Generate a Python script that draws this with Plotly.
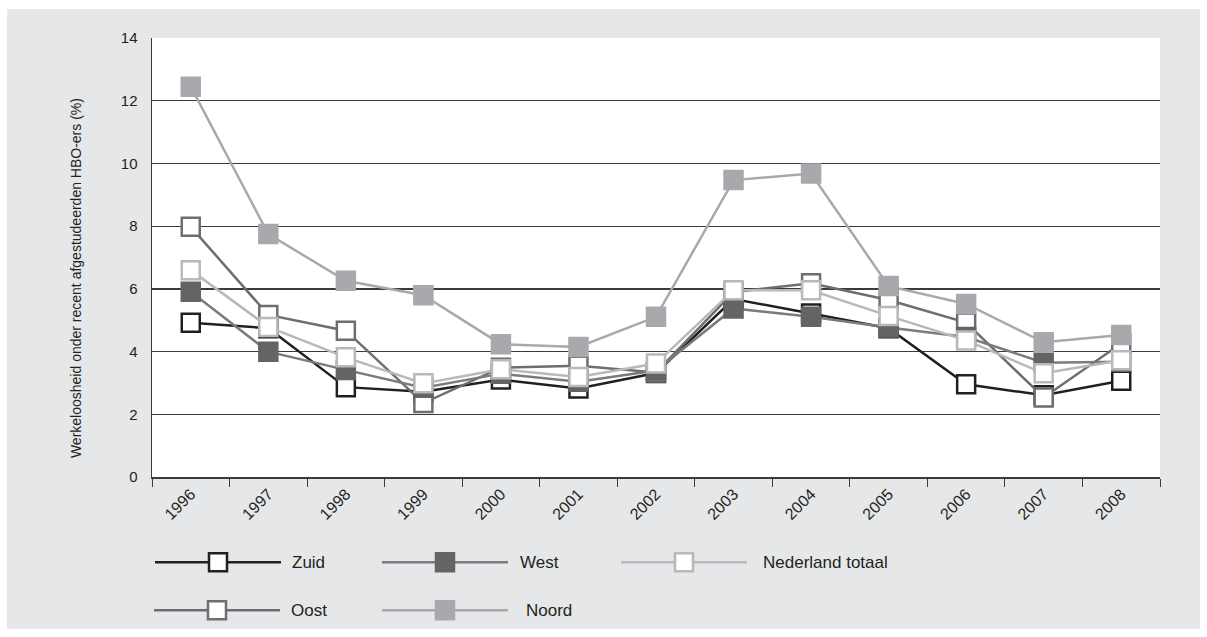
import plotly.graph_objects as go

W, H = 1207, 637

years = ["1996", "1997", "1998", "1999", "2000", "2001", "2002",
         "2003", "2004", "2005", "2006", "2007", "2008"]
zuid = [4.92, 4.75, 2.87, 2.72, 3.11, 2.83, 3.32, 5.68, 5.22, 4.75, 2.96, 2.61, 3.07]
oost = [7.98, 5.17, 4.67, 2.36, 3.49, 3.55, 3.34, 5.90, 6.18, 5.65, 4.93, 2.54, 4.26]
west = [5.91, 4.00, 3.42, 2.85, 3.30, 3.04, 3.40, 5.38, 5.11, 4.77, 4.47, 3.65, 3.68]
nederland = [6.60, 4.79, 3.82, 2.99, 3.44, 3.19, 3.62, 5.96, 5.96, 5.14, 4.36, 3.31, 3.73]
noord = [12.45, 7.75, 6.26, 5.80, 4.24, 4.15, 5.11, 9.47, 9.68, 6.09, 5.52, 4.30, 4.53]

y_title = "Werkeloosheid onder recent afgestudeerden HBO-ers (%)"

# style per series: (name, values, line colour, marker fill, marker border)
series = [
    ("Zuid", zuid, "#231f20", "#ffffff", "#231f20"),
    ("Oost", oost, "#6d6e71", "#ffffff", "#6d6e71"),
    ("West", west, "#7a7b7e", "#636466", "#636466"),
    ("Nederland totaal", nederland, "#b7b9bc", "#ffffff", "#b7b9bc"),
    ("Noord", noord, "#a7a9ac", "#a7a9ac", "#a7a9ac"),
]

FONT = "Liberation Sans, Arial, Helvetica, sans-serif"
TXT = "#231f20"
MS = 18
MLW = 2.5
LW = 2.5

# vertical placement helper: target screen row -> figure row
V_OFF, V_SCALE = 9.0, 0.973


def fy(ys):
    return (ys - V_OFF) / V_SCALE


def py(ys):
    return 1 - fy(ys) / H


fig = go.Figure()
for name, vals, lc, fc, bc in series:
    fig.add_trace(go.Scatter(
        x=years, y=vals, mode="lines+markers", name=name,
        line=dict(color=lc, width=LW),
        marker=dict(symbol="square", size=MS, color=fc, line=dict(color=bc, width=MLW)),
        showlegend=False, xaxis="x", yaxis="y",
    ))

# custom legend (layout positions in pixels on an auxiliary axis)
# name: (line start x, row y, label x)
legend_pos = {
    "Zuid": (155, 562, 290),
    "West": (382, 562, 518),
    "Nederland totaal": (621, 562, 761),
    "Oost": (154, 610, 289),
    "Noord": (382, 610, 524),
}
LEG_LEN = 126
annotations = []
for name, vals, lc, fc, bc in series:
    x0, yy, tx = legend_pos[name]
    fig.add_trace(go.Scatter(
        x=[x0, x0 + LEG_LEN], y=[fy(yy), fy(yy)], mode="lines",
        line=dict(color=lc, width=LW), showlegend=False,
        xaxis="x2", yaxis="y2", hoverinfo="skip"))
    fig.add_trace(go.Scatter(
        x=[x0 + LEG_LEN / 2], y=[fy(yy)], mode="markers",
        marker=dict(symbol="square", size=MS, color=fc, line=dict(color=bc, width=MLW)),
        showlegend=False, xaxis="x2", yaxis="y2", hoverinfo="skip"))
    annotations.append(dict(
        x=tx / W, y=py(yy), xref="paper", yref="paper", text=name,
        showarrow=False, xanchor="left", yanchor="middle",
        font=dict(family=FONT, size=17, color=TXT)))

annotations.append(dict(
    x=76 / W, y=py(278), xref="paper", yref="paper", text=y_title,
    textangle=-90, showarrow=False, xanchor="center", yanchor="middle",
    font=dict(family=FONT, size=14, color=TXT)))

x_dom = [152 / W, 1160 / W]
y_dom = [py(477), py(38)]

shapes = [
    dict(type="rect", xref="paper", yref="paper", x0=7 / W, x1=1200 / W,
         y0=max(py(632), 0), y1=min(py(7), 1), fillcolor="#e6e7e8",
         line=dict(width=0), layer="below"),
    dict(type="rect", xref="paper", yref="paper", x0=x_dom[0], x1=x_dom[1],
         y0=y_dom[0], y1=y_dom[1], fillcolor="#ffffff", line=dict(width=0), layer="below"),
]

fig.update_layout(
    width=W, height=H,
    margin=dict(l=0, r=0, t=0, b=0),
    paper_bgcolor="#ffffff",
    plot_bgcolor="rgba(0,0,0,0)",
    shapes=shapes,
    annotations=annotations,
    font=dict(family=FONT, color=TXT),
    hovermode=False,
    xaxis=dict(
        domain=x_dom, anchor="y", type="category", categoryorder="array",
        categoryarray=years, range=[-0.5, 12.5], tickangle=-45,
        showline=True, linecolor="#3a3a3a", linewidth=1.5,
        ticks="outside", tickson="boundaries", ticklen=8, tickcolor="#3a3a3a",
        tickfont=dict(family=FONT, size=16, color=TXT), showgrid=False, zeroline=False,
    ),
    yaxis=dict(
        domain=y_dom, anchor="x", range=[0, 14], dtick=2, tick0=0,
        showgrid=True, gridcolor="#3a3a3a", gridwidth=1.3,
        showline=True, linecolor="#3a3a3a", linewidth=1.5, zeroline=False,
        ticks="", ticklabelstandoff=10,
        tickfont=dict(family=FONT, size=15, color=TXT),
    ),
    xaxis2=dict(domain=[0, 1], anchor="y2", range=[0, W], visible=False, fixedrange=True),
    yaxis2=dict(domain=[0, 1], anchor="x2", range=[H, 0], visible=False, fixedrange=True),
)

fig.write_html(
    "out.html",
    config={"displayModeBar": False, "staticPlot": True},
    post_script="document.body.style.margin='0';document.body.style.overflow='hidden';",
)
